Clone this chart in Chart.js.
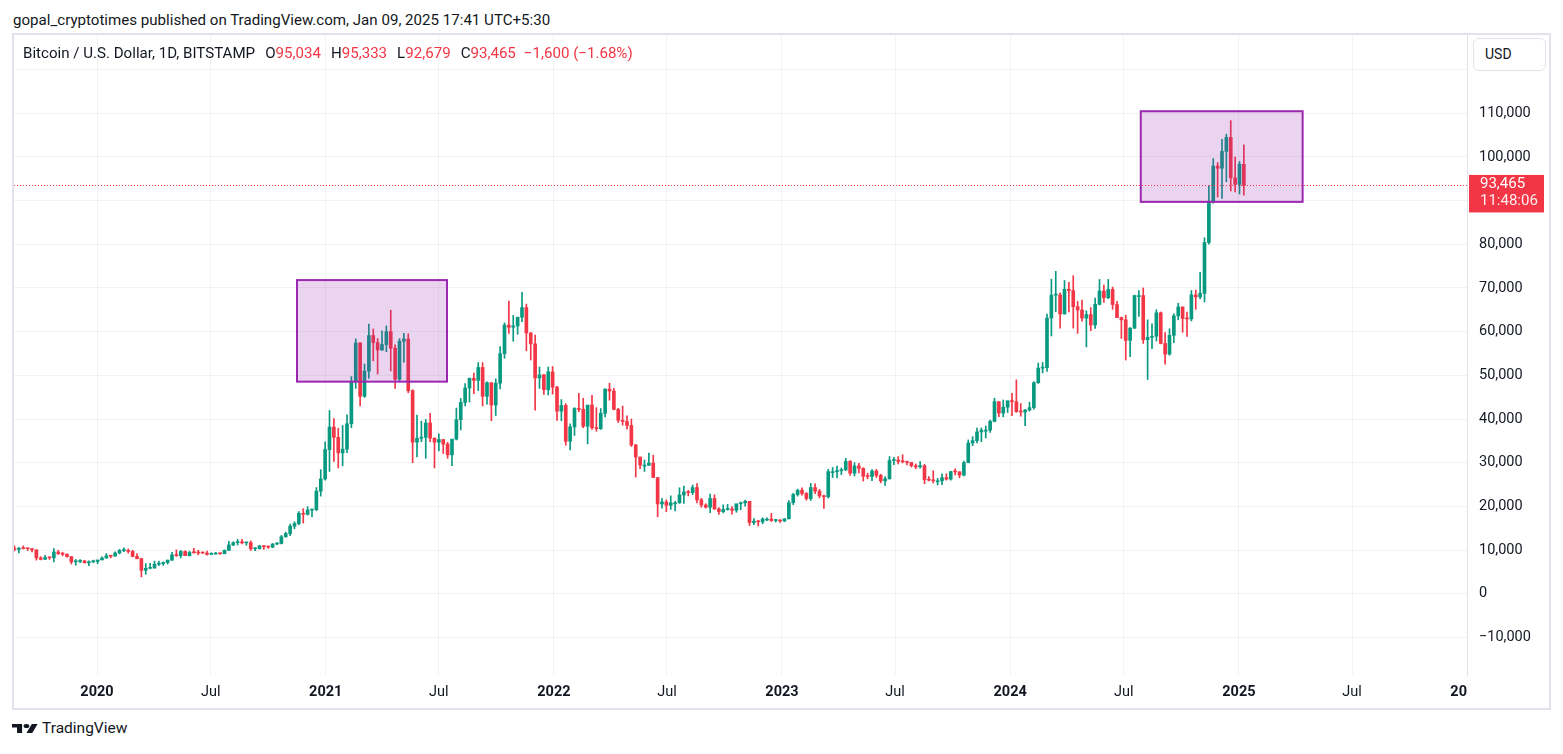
<!DOCTYPE html>
<html>
<head>
<meta charset="utf-8">
<title>BTCUSD</title>
<script src="https://cdn.jsdelivr.net/npm/chart.js@4.4.1/dist/chart.umd.min.js"></script>
<style>
  html, body { margin: 0; padding: 0; background: #fff; width: 1563px; height: 754px; overflow: hidden;
    font-family: Roboto, "Liberation Sans", sans-serif; color: #131722; }
  #header { position: absolute; left: 13px; top: 11px; font-size: 15.1px; line-height: 18px; white-space: nowrap; }
  #frame { position: absolute; left: 12px; top: 33px; width: 1535px; height: 673px; border: 2px solid #e0e3eb; }
  #legend { position: absolute; left: 23px; top: 44px; font-size: 15.1px; line-height: 18px; white-space: nowrap; z-index: 2; }
  #legend .k { margin-left: 10px; }
  #legend .v, #legend .chg { color: #f23645; }
  #legend .chg { margin-left: 8px; }
  #usd { position: absolute; left: 1473px; top: 38px; height: 31px; border: 1px solid #e0e3eb; border-radius: 6px;
    background: #fff; font-size: 14px; line-height: 31px; padding-left: 11px; width: 60px; z-index: 2; }
  #footer { position: absolute; left: 12px; top: 719px; height: 19px; display: flex; align-items: center; }
  #footer svg { width: 26px; height: 9px; margin-right: 4px; }
  #footer span { font-size: 15.5px; line-height: 19px; }
  canvas { position: absolute; left: 0; top: 0; z-index: 1; }
</style>
</head>
<body>
<div id="header">gopal_cryptotimes published on TradingView.com, Jan 09, 2025 17:41 UTC+5:30</div>
<div id="frame"></div>
<div id="legend"><span>Bitcoin / U.S. Dollar, 1D, BITSTAMP</span><span class="k">O</span><span class="v" id="lo"></span><span class="k">H</span><span class="v" id="lh"></span><span class="k">L</span><span class="v" id="ll"></span><span class="k">C</span><span class="v" id="lc"></span><span class="chg">−1,600 (−1.68%)</span></div>
<div id="usd">USD</div>
<canvas id="btcChart" width="1563" height="754"></canvas>
<div id="footer">
  <svg viewBox="0 4 36 18" preserveAspectRatio="none"><path fill="#131722" d="M14 22H7V11H0V4h14v18ZM28 22h-8l7.5-18h8L28 22Z"/><circle fill="#131722" cx="20" cy="8" r="4"/></svg>
  <span>TradingView</span>
</div>
<script>
// days counted from 1 Jan 2020
function day(s) {
	const p = s.split('-').map(Number);
	return (Date.UTC(p[0], p[1] - 1, p[2]) - Date.UTC(2020, 0, 1)) / 864e5;
}

// weekly candles [open, high, low, close], weeks start on Monday
const firstMonday = day('2019-08-19');

const w2019 = [
	[10300, 10950, 9800, 10140], [10140, 10630, 9320, 10370], [10370, 10950, 10250, 10310], [10310, 10450, 9900, 10300],
	[10300, 10400, 9600, 10050], [10050, 10050, 7700, 8200], [8200, 8480, 7750, 7870], [7870, 8800, 7850, 8280],
	[8280, 8420, 7860, 8220], [8220, 10350, 7300, 9550], [9550, 9950, 8980, 9200], [9200, 9500, 8700, 9050],
	[9050, 9110, 8350, 8500], [8500, 8500, 6800, 7300], [7300, 7850, 6520, 7400], [7400, 7800, 7100, 7510],
	[7510, 7650, 7050, 7080], [7080, 7520, 6430, 7320], [7320, 7700, 7100, 7390], [7390, 7550, 6870, 7750]
];
const w2020 = [
	[7750, 8470, 7720, 8180], [8180, 9190, 8120, 8700], [8700, 8800, 8220, 8600], [8600, 9570, 8600, 9330],
	[9330, 10160, 9120, 9900], [9900, 10500, 9650, 9920], [9920, 10250, 9280, 9670], [9670, 9960, 8430, 8540],
	[8540, 9180, 8000, 8030], [8030, 8150, 3850, 5360], [5360, 6900, 4450, 5820], [5820, 6980, 5700, 5880],
	[5880, 7470, 5860, 6770], [6770, 7470, 6450, 6900], [6900, 7300, 6480, 7140], [7140, 7720, 6800, 7690],
	[7690, 9460, 7650, 8890], [8890, 10050, 8540, 8730], [8730, 9940, 8200, 9680], [9680, 9850, 8700, 8720],
	[8720, 9740, 8630, 9450], [9450, 10400, 9260, 9380], [9380, 9950, 8900, 9330], [9330, 9590, 9210, 9300],
	[9300, 9780, 8830, 9000], [9000, 9390, 8950, 9080], [9080, 9460, 9070, 9250], [9250, 9260, 9000, 9170],
	[9170, 10050, 9120, 9930], [9930, 12000, 9920, 11180], [11180, 11900, 11000, 11690], [11690, 12470, 11150, 11850],
	[11850, 12470, 11400, 11650], [11650, 11770, 11100, 11700], [11700, 12090, 9900, 10280], [10280, 10580, 9880, 10330],
	[10330, 11100, 10200, 10930], [10930, 10990, 10150, 10780], [10780, 10950, 10380, 10670], [10670, 11490, 10530, 11380],
	[11380, 11720, 11230, 11500], [11500, 13350, 11400, 13030], [13030, 14090, 12950, 13760], [13760, 15960, 13300, 15480],
	[15480, 16480, 14850, 16070], [16070, 18780, 15800, 18400], [18400, 19480, 16200, 18180], [18180, 19920, 18000, 19160],
	[19160, 19400, 17600, 19270], [19270, 24300, 19000, 23480], [23480, 28400, 22350, 26280], [26280, 34800, 26000, 33000]
];
const w2021 = [
	[33000, 41950, 28000, 38150], [38150, 40100, 30300, 35800], [35800, 37850, 28800, 32250], [32250, 38500, 29300, 33100],
	[33100, 40950, 32300, 38900], [38900, 49700, 38000, 48600], [48600, 58350, 47000, 57400], [57400, 57500, 43000, 45200],
	[45200, 52600, 44950, 50950], [50950, 61700, 49300, 59100], [59100, 60600, 53300, 57500], [57500, 58400, 50300, 55800],
	[55800, 60200, 55700, 57050], [57050, 61300, 55400, 60000], [60000, 64900, 51000, 56200], [56200, 57000, 47000, 49100],
	[49100, 58400, 48800, 57800], [57800, 59600, 53000, 58300], [58300, 59500, 46000, 46500], [46500, 46700, 30000, 34700],
	[34700, 40900, 31300, 35600], [35600, 39500, 34800, 35800], [35800, 39900, 31000, 39100], [39100, 41300, 34800, 35600],
	[35600, 35700, 28800, 34700], [34700, 36600, 32700, 35300], [35300, 35300, 32100, 34250], [34250, 34650, 31000, 31800],
	[31800, 35100, 29300, 35400], [35400, 42500, 35200, 39850], [39850, 44700, 37500, 43800], [43800, 48100, 43000, 47100],
	[47100, 49400, 43900, 49300], [49300, 50500, 45800, 48850], [48850, 52900, 46500, 51800], [51800, 52900, 43000, 45200],
	[45200, 48500, 43400, 48300], [48300, 48300, 39600, 43200], [43200, 49200, 40800, 48200], [48200, 56600, 46900, 54950],
	[54950, 62000, 53900, 61500], [61500, 67000, 59600, 61000], [61000, 63700, 57800, 61300], [61300, 63300, 59400, 63300],
	[63300, 69000, 62300, 65500], [65500, 66300, 55600, 59700], [59700, 59800, 53500, 57200], [57200, 59200, 42000, 49400],
	[49400, 51900, 47000, 50100], [50100, 50200, 45600, 46700], [46700, 51900, 45500, 50800], [50800, 52000, 45700, 47300]
];
const w2022 = [
	[47300, 47500, 39700, 41800], [41800, 44450, 39600, 43100], [43100, 43500, 34000, 34900], [34900, 38900, 32900, 38200],
	[38200, 42600, 36250, 42400], [42400, 45850, 41700, 42200], [42200, 44750, 38000, 38350], [38350, 40000, 34300, 43200],
	[43200, 45400, 37600, 38000], [38000, 42600, 37200, 37800], [37800, 42400, 37600, 41300], [41300, 46900, 40500, 46850],
	[46850, 48200, 44300, 46400], [46400, 47000, 42100, 42200], [42200, 42450, 39200, 39700], [39700, 42950, 38600, 39450],
	[39450, 40750, 37700, 38500], [38500, 40000, 33700, 34050], [34050, 34200, 26700, 31300], [31300, 31300, 28650, 29450],
	[29450, 30600, 28000, 29450], [29450, 32200, 29300, 29900], [29900, 31700, 26600, 26600], [26600, 26600, 17600, 20550],
	[20550, 21850, 19600, 21000], [21000, 21500, 18800, 20250], [20250, 22400, 19300, 20800], [20800, 21150, 18950, 20800],
	[20800, 24250, 20700, 22600], [22600, 24650, 20700, 23300], [23300, 23650, 22400, 23150], [23150, 24900, 22700, 24300],
	[24300, 25200, 20800, 21500], [21500, 21850, 19800, 20300], [20300, 20600, 19600, 19800], [19800, 22800, 18550, 21800],
	[21800, 22650, 19300, 19400], [19400, 19700, 18150, 18800], [18800, 20350, 18500, 19300], [19300, 20450, 19100, 19400],
	[19400, 19950, 18200, 19100], [19100, 19700, 18650, 20600], [20600, 21000, 19250, 20800], [20800, 21450, 20050, 21150],
	[21150, 21150, 15600, 16300], [16300, 17200, 15800, 16600], [16600, 16800, 15500, 16450], [16450, 17400, 16000, 17100],
	[17100, 17400, 16700, 17100], [17100, 18400, 16550, 16750], [16750, 17050, 16400, 16850], [16850, 16950, 16350, 16650]
];
const w2023 = [
	[16650, 17200, 16500, 17150], [17150, 21300, 17150, 20850], [20850, 23000, 20400, 22700], [22700, 23950, 22350, 23700],
	[23700, 24250, 22550, 22950], [22950, 23150, 21400, 21800], [21800, 25250, 21350, 24300], [24300, 25150, 22900, 23500],
	[23500, 23900, 21950, 22400], [22400, 22600, 19550, 22200], [22200, 28500, 21900, 27950], [27950, 28900, 26600, 27950],
	[27950, 29200, 26500, 28150], [28150, 28800, 27250, 28350], [28350, 31000, 28200, 30300], [30300, 30500, 27100, 27600],
	[27600, 30000, 26950, 29250], [29250, 29850, 27650, 28700], [28700, 28850, 25800, 26900], [26900, 27600, 26300, 26850],
	[26850, 28450, 25900, 28100], [28100, 28450, 26600, 27100], [27100, 27350, 25400, 25850], [25850, 26800, 24800, 26300],
	[26300, 31400, 26250, 30500], [30500, 31250, 29550, 30600], [30600, 31400, 29700, 30300], [30300, 31800, 29950, 30200],
	[30200, 30350, 29500, 30050], [30050, 30050, 29000, 29300], [29300, 29700, 28600, 29050], [29050, 30250, 28750, 29300],
	[29300, 29600, 25200, 26100], [26100, 26800, 25800, 26000], [26000, 28150, 25350, 25850], [25850, 26400, 24900, 25850],
	[25850, 27450, 24950, 26550], [26550, 27450, 26000, 26250], [26250, 28050, 26000, 27950], [27950, 28600, 27200, 27900],
	[27900, 27950, 26550, 27150], [27150, 30350, 26950, 30000], [30000, 35200, 29950, 34500], [34500, 35950, 33900, 35050],
	[35050, 37950, 34550, 37050], [37050, 37950, 34800, 37450], [37450, 38400, 35650, 37450], [37450, 39750, 36900, 39450],
	[39450, 44750, 39350, 43950], [43950, 44000, 40550, 41350], [41350, 44350, 40500, 42700], [42700, 44000, 41500, 44200]
];
const w2024 = [
	[44200, 45900, 40750, 43950], [43950, 48950, 41500, 41700], [41700, 43550, 40650, 41600], [41600, 42200, 38500, 42050],
	[42050, 43850, 41800, 42600], [42600, 48550, 42250, 48300], [48300, 52800, 48150, 51650], [51650, 52950, 50550, 51750],
	[51750, 64000, 50900, 63100], [63100, 72000, 59000, 68350], [68350, 73800, 64550, 68400], [68400, 68900, 60800, 64050],
	[64050, 71700, 64000, 69700], [69700, 71300, 64500, 69400], [69400, 72800, 60800, 65700], [65700, 66900, 59600, 64950],
	[64950, 67250, 62400, 63100], [63100, 64750, 56500, 63900], [63900, 65500, 60200, 61500], [61500, 67700, 60750, 66250],
	[66250, 71950, 66100, 69300], [69300, 70650, 66700, 67750], [67750, 71950, 67550, 69650], [69650, 70200, 65100, 66200],
	[66200, 66950, 63400, 63200], [63200, 63350, 58450, 62700], [62700, 63800, 53500, 58000], [58000, 60900, 54250, 60800],
	[60800, 68350, 60700, 68250], [68250, 69400, 63500, 68250], [68250, 70000, 57300, 58150], [58150, 62700, 49050, 58700],
	[58700, 61800, 56100, 58950], [58950, 65000, 57850, 64300], [64300, 64500, 57200, 57300], [57300, 59800, 52550, 54850],
	[54850, 60650, 54600, 59150], [59150, 64100, 57500, 63600], [63600, 66500, 62700, 65650], [65650, 65650, 59850, 63000],
	[63000, 64500, 58900, 62900], [62900, 69400, 62450, 68400], [68400, 69500, 65100, 67950], [67950, 73600, 67500, 68750],
	[68750, 81500, 66800, 80400], [80400, 93500, 80000, 89850], [89850, 99600, 89400, 97900], [97900, 98700, 90800, 97400],
	[97400, 104000, 90500, 101250], [101250, 105200, 94300, 104450], [104450, 108300, 92200, 95200], [95200, 99950, 92000, 93700],
	[93700, 98950, 91500, 98300]
];
const w2025 = [
	[98300, 102750, 91250, 93465]
];

// legend of the last daily bar: open, high, low, close
const lastDay = [95034, 95333, 92679, 93465];
const countdown = '11:48:06';

// x axis ticks
const tickDates = ['2020-01-01', '2020-07-01', '2021-01-01', '2021-07-01', '2022-01-01', '2022-07-01', '2023-01-01',
	'2023-07-01', '2024-01-01', '2024-07-01', '2025-01-01', '2025-07-01', '2026-01-01'];
const tickLabels = ['2020', 'Jul', '2021', 'Jul', '2022', 'Jul', '2023', 'Jul', '2024', 'Jul', '2025', 'Jul', '20'];

// price axis ticks
const priceTicks = [-10000, 0, 10000, 20000, 30000, 40000, 50000, 60000, 70000, 80000, 90000, 100000, 110000, 120000];

// purple zones drawn on the chart
const zoneFrom = ['2020-11-16', '2024-07-28'];
const zoneTo = ['2021-07-14', '2025-04-13'];
const zoneTop = [71800, 110450];
const zoneBottom = [48550, 89700];

const xMin = -132.8;
const xMax = day('2026-01-01');
const yMin = -18600;
const yMax = 127900;

const UP = '#089981';
const DOWN = '#f23645';
const GRID = 'rgba(42, 46, 57, 0.06)';
const FONT = 'Roboto, "Liberation Sans", sans-serif';

const candles = [].concat(w2019, w2020, w2021, w2022, w2023, w2024, w2025);
const fmt = v => v.toLocaleString('en-US').replace('-', '\u2212');

document.getElementById('lo').textContent = fmt(lastDay[0]);
document.getElementById('lh').textContent = fmt(lastDay[1]);
document.getElementById('ll').textContent = fmt(lastDay[2]);
document.getElementById('lc').textContent = fmt(lastDay[3]);

const bodies = candles.map((c, i) => ({ x: firstMonday + 7 * i + 3, y: [c[0], c[3]] }));
const wicks = candles.map((c, i) => ({ x: firstMonday + 7 * i + 3, y: [c[2], c[1]] }));
const candleColor = ctx => {
	const c = candles[ctx.dataIndex];
	return c && c[3] < c[0] ? DOWN : UP;
};

const overlay = {
	id: 'overlay',
	afterDatasetsDraw(chart) {
		const { ctx, chartArea: a, scales: { x, y } } = chart;
		ctx.save();
		ctx.beginPath();
		ctx.rect(a.left, a.top, a.right - a.left, a.bottom - a.top);
		ctx.clip();
		// zones
		for (let i = 0; i < zoneFrom.length; i++) {
			const x0 = x.getPixelForValue(day(zoneFrom[i]));
			const x1 = x.getPixelForValue(day(zoneTo[i]));
			const y0 = y.getPixelForValue(zoneTop[i]);
			const y1 = y.getPixelForValue(zoneBottom[i]);
			ctx.fillStyle = 'rgba(156, 39, 176, 0.2)';
			ctx.fillRect(x0, y0, x1 - x0, y1 - y0);
			ctx.strokeStyle = '#9c27b0';
			ctx.lineWidth = 2;
			ctx.strokeRect(x0, y0, x1 - x0, y1 - y0);
		}
		// last price line
		const py = Math.round(y.getPixelForValue(lastDay[3])) + 0.5;
		ctx.setLineDash([1, 2]);
		ctx.strokeStyle = DOWN;
		ctx.lineWidth = 1;
		ctx.beginPath();
		ctx.moveTo(a.left, py);
		ctx.lineTo(a.right, py);
		ctx.stroke();
		ctx.restore();
	},
	afterDraw(chart) {
		const { ctx, chartArea: a, scales: { y } } = chart;
		const py = y.getPixelForValue(lastDay[3]);
		ctx.save();
		ctx.fillStyle = DOWN;
		ctx.fillRect(a.right + 2, py - 10.5, 75, 37.5);
		ctx.fillStyle = '#fff';
		ctx.font = '15px ' + FONT;
		ctx.textBaseline = 'middle';
		ctx.textAlign = 'left';
		ctx.fillText(fmt(lastDay[3]), a.right + 13, py - 1.5);
		ctx.fillStyle = 'rgba(255, 255, 255, 0.9)';
		ctx.fillText(countdown, a.right + 13, py + 16);
		ctx.restore();
	}
};

const chart = new Chart(document.getElementById('btcChart'), {
	type: 'bar',
	data: {
		datasets: [
			{ // bodies on top
				data: bodies,
				backgroundColor: candleColor,
				barThickness: 3,
				minBarLength: 1,
				grouped: false,
				borderWidth: 0
			},
			{ // wicks
				data: wicks,
				backgroundColor: candleColor,
				barThickness: 1,
				minBarLength: 1,
				grouped: false,
				borderWidth: 0
			}
		]
	},
	options: {
		responsive: false,
		animation: false,
		events: [],
		layout: { padding: { left: 14, top: 35, right: 12, bottom: 44 } },
		plugins: { legend: { display: false }, tooltip: { enabled: false } },
		scales: {
			x: {
				type: 'linear',
				min: xMin,
				max: xMax,
				offset: false,
				afterBuildTicks: s => { s.ticks = [{ value: xMin }].concat(tickDates.map(d => ({ value: day(d) }))); },
				afterFit: s => { s.height = 35; },
				grid: {
					offset: false,
					drawTicks: false,
					color: ctx => (ctx.tick && ctx.tick.value === xMin) ? 'rgba(0,0,0,0)' : GRID
				},
				border: { display: false },
				ticks: {
					autoSkip: false,
					maxRotation: 0,
					align: 'inner',
					padding: 9,
					color: '#131722',
					font: ctx => ({ family: FONT, size: 14.5, weight: (ctx.tick && /^\d/.test(ctx.tick.label)) ? 'bold' : 'normal' }),
					callback: (v, i) => i === 0 ? '' : tickLabels[i - 1]
				}
			},
			y: {
				position: 'right',
				min: yMin,
				max: yMax,
				afterBuildTicks: s => { s.ticks = priceTicks.map(v => ({ value: v })); },
				afterFit: s => { s.width = 84; },
				grid: { drawTicks: false, color: GRID },
				border: { display: true, color: '#e0e3eb' },
				ticks: {
					autoSkip: false,
					padding: 12,
					color: '#131722',
					font: { family: FONT, size: 14.5 },
					callback: v => v > 115000 ? '' : fmt(v)
				}
			}
		}
	},
	plugins: [overlay]
});
</script>
</body>
</html>
